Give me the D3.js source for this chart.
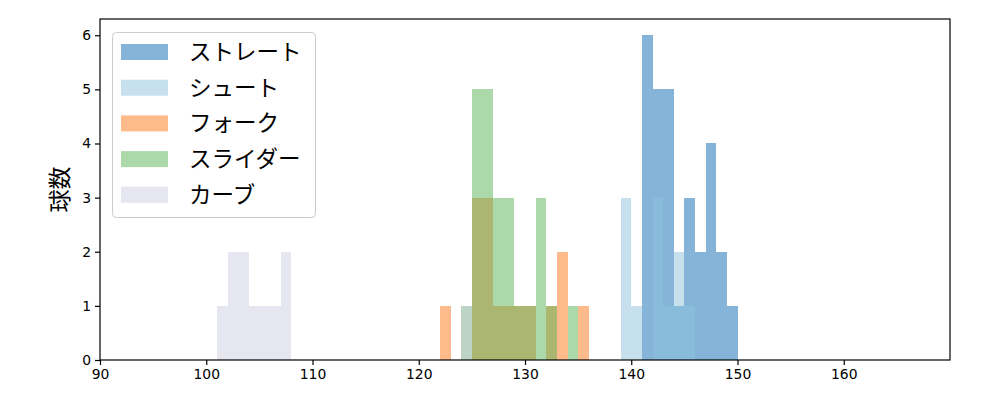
<!DOCTYPE html>
<html><head><meta charset="utf-8">
<script src="https://d3js.org/d3.v7.min.js"></script>
<style>body{margin:0;background:#fff}</style>
</head><body>
<script>
// bin starts (width 1 km/h) and counts per pitch type
const seriesNames = ["ストレート","シュート","フォーク","スライダー","カーブ"];
const seriesColors = ["#0b69b1","#8dc1dd","#fb7515","#59b355","#cdcde1"];
const straightBins = [141,142,143,144,145,146,147,148,149];
const straightCounts = [6,5,5,1,3,2,4,2,1];
const shootBins = [139,140,141,142,143,144,145];
const shootCounts = [3,1,0,3,1,2,1];
const forkBins = [122,123,124,125,126,127,128,129,130,131,132,133,134,135];
const forkCounts = [1,0,0,3,3,1,1,1,1,0,1,2,0,1];
const sliderBins = [124,125,126,127,128,129,130,131,132,133,134];
const sliderCounts = [1,5,5,3,3,1,1,3,1,0,1];
const curveBins = [101,102,103,104,105,106,107,124];
const curveCounts = [1,2,2,1,1,1,2,1];
const xTicks = [90,100,110,120,130,140,150,160];
const yTicks = [0,1,2,3,4,5,6];
const yLabel = "球数";

const W=1000,H=400, m={l:100,r:50,t:19,b:40};
const svg=d3.select("body").append("svg").attr("width",W).attr("height",H);
const x=d3.scaleLinear().domain([90,170]).range([m.l,W-m.r]);
const y=d3.scaleLinear().domain([0,6.3]).range([H-m.b,m.t]);

const all=[[straightBins,straightCounts],[shootBins,shootCounts],[forkBins,forkCounts],[sliderBins,sliderCounts],[curveBins,curveCounts]];
all.forEach(([bins,counts],i)=>{
  const g=svg.append("g").attr("fill",seriesColors[i]).attr("fill-opacity",0.5);
  const p=d3.path();
  bins.forEach((b,j)=>{ if(counts[j]>0){
    p.rect(x(b),y(counts[j]),x(b+1)-x(b),y(0)-y(counts[j])); }});
  g.append("path").attr("d",p.toString()).attr("shape-rendering","crispEdges");
});

const font="'DejaVu Sans', sans-serif";
const xa=svg.append("g").attr("transform",`translate(0,${H-m.b})`)
  .call(d3.axisBottom(x).tickValues(xTicks).tickFormat(d3.format("d")).tickSize(5).tickPadding(4));
const ya=svg.append("g").attr("transform",`translate(${m.l},0)`)
  .call(d3.axisLeft(y).tickValues(yTicks).tickFormat(d3.format("d")).tickSize(5).tickPadding(4));
[xa,ya].forEach(a=>{a.select(".domain").remove();
  a.selectAll("text").attr("font-family",font).attr("font-size",13.9).attr("fill","#000");
  a.selectAll("line").attr("stroke","#000").attr("stroke-width",1.2);});
svg.append("rect").attr("x",m.l).attr("y",m.t).attr("width",W-m.r-m.l).attr("height",H-m.b-m.t)
  .attr("fill","none").attr("stroke","#000").attr("stroke-width",1.2);

svg.append("text").attr("transform",`translate(60,${(m.t+H-m.b)/2}) rotate(-90)`)
  .attr("text-anchor","middle").attr("dy","0.35em").attr("font-family","'Noto Sans CJK JP'").attr("font-size",23).text(yLabel);

// legend
const lg=svg.append("g");
lg.append("rect").attr("x",112.5).attr("y",32.5).attr("width",203).attr("height",185).attr("rx",4)
  .attr("fill","#fff").attr("fill-opacity",0.8).attr("stroke","#ccc");
seriesNames.forEach((n,i)=>{
  const cy=52+i*35.7;
  lg.append("rect").attr("x",121).attr("y",cy-8).attr("width",47).attr("height",16)
    .attr("fill",seriesColors[i]).attr("fill-opacity",0.5);
  lg.append("text").attr("x",189).attr("y",cy).attr("dy","0.35em")
    .attr("font-family","'Noto Sans CJK JP'").attr("font-size",22.5).text(n);
});
</script>
</body></html>
